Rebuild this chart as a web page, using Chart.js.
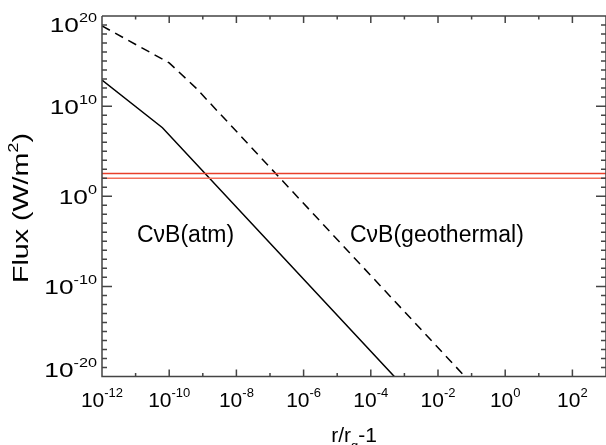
<!DOCTYPE html>
<html lang="en">
<head>
<meta charset="UTF-8">
<title>Flux vs r/rg-1</title>
<script src="https://cdn.jsdelivr.net/npm/chart.js"></script>
<style>
  body { margin: 0; background: #fff; }
  #wrap { width: 606px; height: 445px; }
</style>
</head>
<body>
<div id="wrap"><canvas id="chart"></canvas></div>
<script>
// values
var atmX = [1e-12, 6.3e-11, 1e-3];
var atmY = [7.9e12, 4e7, 6.3e-22];
var geoX = [1e-12, 1e-10, 6.3e-10, 1];
var geoY = [7.9e18, 6.3e14, 1e12, 1.6e-25];
var refLevels = [340, 100];
var refColors = ['rgb(232,62,42)', 'rgb(244,112,92)'];
var xLabelExps = ['-12', '-10', '-8', '-6', '-4', '-2', '0', '2'];
var yLabelExps = ['20', '10', '0', '-10', '-20'];

var FONT = '"Liberation Sans", Arial, sans-serif';

function pts(xs, ys) {
    return xs.map(function (x, i) { return { x: x, y: ys[i] }; });
}

// "10" with a raised exponent; sx stretches it sideways (IDL y labels are wider)
function powWidth(c, sup) {
    c.font = '21px ' + FONT;
    var wb = c.measureText('10').width;
    c.font = '13px ' + FONT;
    return wb + c.measureText(sup).width;
}
function drawPow(c, sup, x, base, sx) {
    c.save();
    c.translate(x, base);
    c.scale(sx, 1);
    c.font = '21px ' + FONT;
    c.fillText('10', 0, 0);
    var wb = c.measureText('10').width;
    c.font = '13px ' + FONT;
    c.fillText(sup, wb, -10);
    c.restore();
}

var axesPlugin = {
    id: 'idlAxes',
    afterDraw: function (chart) {
        var c = chart.ctx, a = chart.chartArea;
        var xs = chart.scales.x, ys = chart.scales.y;
        var e, px, py, len;
        c.save();

        // frame + inward ticks
        c.strokeStyle = '#444';
        c.lineWidth = 1.5;
        c.beginPath();
        c.moveTo(a.left, a.top); c.lineTo(a.left, a.bottom);
        c.lineTo(a.right, a.bottom); c.lineTo(a.right, a.top);
        c.lineTo(a.left, a.top);
        for (e = -12; e <= 3; e++) {
            px = xs.getPixelForValue(Math.pow(10, e));
            len = (e % 2 === 0) ? 7 : 3.5;
            c.moveTo(px, a.bottom); c.lineTo(px, a.bottom - len);
            c.moveTo(px, a.top); c.lineTo(px, a.top + len);
        }
        for (e = -20; e <= 20; e++) {
            py = ys.getPixelForValue(Math.pow(10, e));
            len = (e % 10 === 0) ? 10 : 5;
            c.moveTo(a.left, py); c.lineTo(a.left + len, py);
            c.moveTo(a.right, py); c.lineTo(a.right - len, py);
        }
        c.stroke();

        c.fillStyle = '#000';
        c.textBaseline = 'alphabetic';
        c.textAlign = 'left';

        // x tick labels
        xLabelExps.forEach(function (s) {
            var p = xs.getPixelForValue(Math.pow(10, +s));
            var w = powWidth(c, s);
            drawPow(c, s, p - w / 2, a.bottom + 30.5, 1);
        });
        // y tick labels (end ones pulled inside the frame like the original)
        var ysx = 1.25;
        yLabelExps.forEach(function (s) {
            var p = ys.getPixelForValue(Math.pow(10, +s));
            var cy = Math.min(Math.max(p, a.top + 8.5), a.bottom - 7);
            var w = powWidth(c, s) * ysx;
            drawPow(c, s, a.left - 5 - w, cy + 7.5, ysx);
        });

        // x title r/r_g-1
        c.font = '21px ' + FONT;
        var w1 = c.measureText('r/r').width, w3 = c.measureText('-1').width;
        c.font = '13px ' + FONT;
        var w2 = c.measureText('g').width;
        var x0 = (a.left + 606) / 2 - (w1 + w2 + w3) / 2;
        c.font = '21px ' + FONT;
        c.fillText('r/r', x0, 442);
        c.fillText('-1', x0 + w1 + w2, 442);
        c.font = '13px ' + FONT;
        c.fillText('g', x0 + w1, 450);

        // y title Flux (W/m^2), a little stretched along its length
        c.save();
        c.translate(28, 208);
        c.rotate(-Math.PI / 2);
        c.scale(1.3, 1);
        c.font = '22px ' + FONT;
        var t1 = c.measureText('Flux (W/m').width, t3 = c.measureText(')').width;
        c.font = '14px ' + FONT;
        var t2 = c.measureText('2').width;
        var s0 = -(t1 + t2 + t3) / 2;
        c.font = '22px ' + FONT;
        c.fillText('Flux (W/m', s0, 0);
        c.fillText(')', s0 + t1 + t2, 0);
        c.font = '14px ' + FONT;
        c.fillText('2', s0 + t1, -10);
        c.restore();

        // curve names
        c.font = '23px ' + FONT;
        c.fillText('C\u03bdB(atm)', 137, 242);
        c.fillText('C\u03bdB(geothermal)', 350, 242);

        c.restore();
    }
};

var datasets = refLevels.map(function (v, i) {
    return {
        data: [{ x: 1e-12, y: v }, { x: 1e3, y: v }],
        borderColor: refColors[i],
        borderWidth: 1.6
    };
});
datasets.push({ data: pts(atmX, atmY), borderColor: '#000', borderWidth: 1.5 });
datasets.push({ data: pts(geoX, geoY), borderColor: '#000', borderWidth: 1.5, borderDash: [9, 6] });
datasets.forEach(function (d) {
    d.showLine = true;
    d.pointRadius = 0;
    d.fill = false;
    d.tension = 0;
});

var ctx = document.getElementById('chart').getContext('2d');
new Chart(ctx, {
    type: 'scatter',
    data: { datasets: datasets },
    options: {
        responsive: true,
        maintainAspectRatio: false,
        animation: false,
        layout: { padding: { left: 102, top: 16, right: -4.5, bottom: 68.5 } },
        plugins: { legend: { display: false }, tooltip: { enabled: false } },
        scales: {
            x: { type: 'logarithmic', min: 1e-12, max: 1e3, display: false },
            y: { type: 'logarithmic', min: 1e-20, max: 1e20, display: false }
        }
    },
    plugins: [axesPlugin]
});
</script>
</body>
</html>
